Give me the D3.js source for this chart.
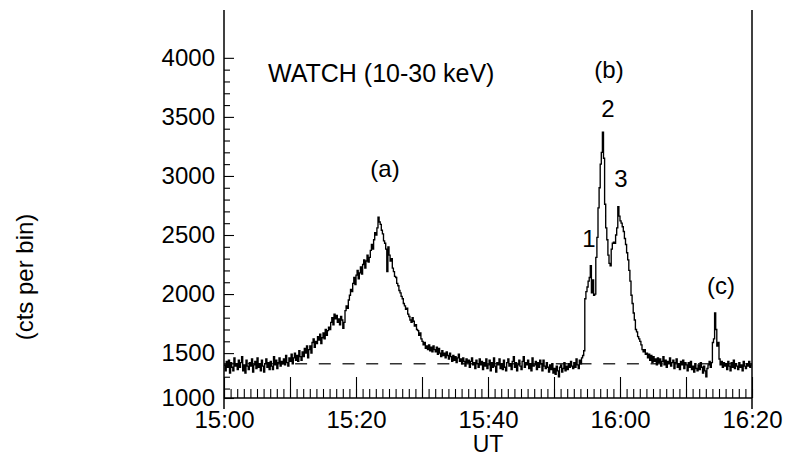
<!DOCTYPE html>
<html>
<head>
<meta charset="utf-8">
<script src="https://cdn.jsdelivr.net/npm/d3@7"></script>
<style>
  html, body { margin: 0; padding: 0; background: #fff; }
  svg { display: block; }
  text { font-family: "Liberation Sans", Arial, sans-serif; fill: #000; }
</style>
</head>
<body>
<svg id="chart" width="785" height="457"></svg>
<script>
// WATCH 10-30 keV count rate, 10 s bins starting 15:00 UT (one row per minute)
const binSeconds = 10;
const counts = [
  1400, 1350, 1430, 1380, 1440, 1330,   // 15:00
  1420, 1380, 1350, 1460, 1390, 1410,
  1360, 1440, 1380, 1420, 1470, 1350,
  1400, 1330, 1440, 1390, 1360, 1420,
  1390, 1450, 1340, 1400, 1430, 1370,
  1460, 1380, 1410, 1350, 1440, 1390,   // 15:05
  1340, 1410, 1450, 1380, 1420, 1360,
  1430, 1390, 1360, 1470, 1400, 1440,
  1370, 1420, 1460, 1390, 1430, 1410,
  1450, 1400, 1480, 1420, 1390, 1460,
  1430, 1490, 1410, 1460, 1500, 1440,   // 15:10
  1480, 1430, 1520, 1470, 1440, 1510,
  1470, 1540, 1500, 1560, 1460, 1530,
  1560, 1500, 1590, 1620, 1550, 1600,
  1580, 1640, 1610, 1660, 1580, 1630,
  1670, 1620, 1700, 1650, 1690, 1720,   // 15:15
  1700, 1760, 1800, 1740, 1830, 1790,
  1820, 1760, 1790, 1740, 1810, 1780,
  1710, 1760, 1860, 1900, 1880, 1950,
  1990, 2040, 2020, 2090, 2140, 2080,
  2160, 2200, 2130, 2180, 2230, 2170,   // 15:20
  2250, 2290, 2220, 2280, 2330, 2270,
  2310, 2370, 2420, 2380, 2460, 2520,
  2500, 2560, 2650, 2610, 2590, 2540,
  2510, 2450, 2430, 2380, 2190, 2400,
  2330, 2280, 2300, 2220, 2190, 2150,   // 15:25
  2140, 2090, 2070, 2030, 2010, 1980,
  1960, 1920, 1900, 1870, 1880, 1830,
  1810, 1780, 1760, 1800, 1770, 1730,
  1740, 1700, 1690, 1650, 1670, 1620,
  1600, 1570, 1590, 1540, 1560, 1530,   // 15:30
  1570, 1520, 1550, 1510, 1560, 1530,
  1510, 1550, 1490, 1540, 1500, 1470,
  1520, 1480, 1500, 1460, 1510, 1480,
  1450, 1500, 1470, 1430, 1480, 1440,
  1470, 1420, 1460, 1490, 1430, 1450,   // 15:35
  1410, 1460, 1430, 1390, 1450, 1420,
  1440, 1380, 1430, 1460, 1400, 1420,
  1370, 1440, 1410, 1380, 1450, 1400,
  1430, 1360, 1420, 1390, 1450, 1370,
  1400, 1440, 1350, 1420, 1380, 1460,   // 15:40
  1390, 1340, 1420, 1400, 1450, 1370,
  1410, 1360, 1440, 1380, 1350, 1420,
  1450, 1390, 1410, 1360, 1430, 1470,
  1380, 1420, 1350, 1400, 1440, 1390,
  1360, 1430, 1470, 1380, 1420, 1400,   // 15:45
  1440, 1370, 1410, 1350, 1460, 1390,
  1400, 1430, 1360, 1420, 1380, 1440,
  1410, 1350, 1440, 1390, 1370, 1420,
  1380, 1340, 1400, 1360, 1410, 1330,
  1370, 1320, 1390, 1350, 1300, 1380,   // 15:50
  1400, 1340, 1370, 1420, 1350, 1390,
  1360, 1410, 1380, 1430, 1390, 1370,
  1420, 1380, 1450, 1400, 1370, 1440,
  1410, 1460, 1480, 1520, 1960, 2020,
  2060, 2110, 2140, 2240, 2010, 2120,   // 15:55
  1990, 2000, 2310, 2480, 2730, 2900,
  3100, 3200, 3370, 3150, 2760, 2560,
  2460, 2330, 2260, 2240, 2380, 2430,
  2440, 2430, 2500, 2560, 2740, 2660,
  2620, 2600, 2570, 2530, 2470, 2420,   // 16:00
  2350, 2290, 2200, 2110, 1990, 1920,
  1840, 1780, 1700, 1680, 1640, 1620,
  1600, 1570, 1530, 1510, 1530, 1490,
  1500, 1460, 1490, 1440, 1480, 1420,
  1470, 1430, 1450, 1400, 1460, 1420,   // 16:05
  1450, 1390, 1430, 1470, 1400, 1440,
  1380, 1430, 1410, 1460, 1390, 1420,
  1440, 1370, 1420, 1450, 1380, 1410,
  1360, 1430, 1400, 1440, 1370, 1420,
  1400, 1350, 1420, 1380, 1430, 1360,   // 16:10
  1390, 1340, 1410, 1370, 1350, 1400,
  1360, 1420, 1380, 1330, 1390, 1350,
  1300, 1370, 1400, 1430, 1380, 1420,
  1590, 1620, 1840, 1700, 1560, 1590,
  1450, 1400, 1430, 1380, 1420, 1390,   // 16:15
  1410, 1360, 1430, 1390, 1350, 1420,
  1380, 1440, 1370, 1410, 1390, 1360,
  1420, 1380, 1400, 1350, 1430, 1390,
  1370, 1410, 1390, 1430, 1380, 1400
];
const backgroundLevel = 1410;

const yMajorTicks = [1000, 1500, 2000, 2500, 3000, 3500, 4000];
const yMinorTicks = [1200, 1300, 1400, 1600, 1700, 1800, 1900, 2100, 2200, 2300, 2400,
  2600, 2700, 2800, 2900, 3100, 3200, 3300, 3400, 3600, 3700, 3800, 3900];
const xLabelTimes = ["15:00", "15:20", "15:40", "16:00", "16:20"];

const annotations = [
  { text: "WATCH (10-30 keV)", x: 268, y: 82, anchor: "start", size: 25 },
  { text: "(a)", x: 385, y: 177, anchor: "middle", size: 24 },
  { text: "(b)", x: 609, y: 78, anchor: "middle", size: 24 },
  { text: "2", x: 608, y: 117, anchor: "middle", size: 24 },
  { text: "3", x: 621, y: 187, anchor: "middle", size: 24 },
  { text: "1", x: 589, y: 247, anchor: "middle", size: 24 },
  { text: "(c)", x: 721, y: 294, anchor: "middle", size: 24 }
];

const svg = d3.select("#chart");
const plotLeft = 224, plotRight = 752, plotTop = 10, plotBottom = 398;
const fontSize = 24;

const day = (hh, mm) => new Date(Date.UTC(2000, 0, 1, hh, mm));
const t0 = day(15, 0), t1 = day(16, 20);

const x = d3.scaleUtc().domain([t0, t1]).range([plotLeft, plotRight]);
const y = d3.scaleLinear().domain([1120, 4405]).range([plotBottom, plotTop]).clamp(true);

// step series
const pts = counts.map((v, i) => [new Date(t0.getTime() + i * binSeconds * 1000), v]);
pts.push([new Date(t0.getTime() + counts.length * binSeconds * 1000), counts[counts.length - 1]]);

// dashed background level
svg.append("line")
  .attr("x1", plotLeft).attr("x2", plotRight)
  .attr("y1", y(backgroundLevel)).attr("y2", y(backgroundLevel))
  .attr("stroke", "#333").attr("stroke-width", 1.3)
  .attr("stroke-dasharray", "12,11.7");

svg.append("path")
  .datum(pts)
  .attr("fill", "none")
  .attr("stroke", "#000")
  .attr("stroke-width", 1.35)
  .attr("d", d3.line().x(d => x(d[0])).y(d => y(d[1])).curve(d3.curveStepAfter));

// y axis ticks (inside)
const gyMinor = svg.append("g").attr("transform", `translate(${plotLeft},0)`)
  .call(d3.axisLeft(y).tickValues(yMinorTicks).tickSize(-6).tickFormat(""));
const gyMajor = svg.append("g").attr("transform", `translate(${plotLeft},0)`)
  .call(d3.axisLeft(y).tickValues(yMajorTicks).tickSize(-10).tickPadding(9).tickFormat(d3.format("d")));

// x axis ticks (inside)
const gxMinor = svg.append("g").attr("transform", `translate(0,${plotBottom})`)
  .call(d3.axisBottom(x).ticks(d3.utcMinute.every(1)).tickSize(-9).tickFormat(""));
const fmt = d3.utcFormat("%H:%M");
const gxMajor = svg.append("g").attr("transform", `translate(0,${plotBottom})`)
  .call(d3.axisBottom(x).ticks(d3.utcMinute.every(10)).tickSize(-21).tickPadding(13)
    .tickFormat(d => xLabelTimes.includes(fmt(d)) ? fmt(d) : ""));

[gyMinor, gyMajor, gxMinor, gxMajor].forEach(g => {
  g.select(".domain").remove();
  g.selectAll("line").attr("stroke", "#000").attr("stroke-width", 1.1);
  g.selectAll("text").attr("font-size", fontSize)
    .attr("font-family", '"Liberation Sans", Arial, sans-serif').attr("fill", "#000");
});

// frame: left, right and bottom
svg.append("line").attr("x1", plotLeft).attr("x2", plotRight).attr("y1", plotBottom).attr("y2", plotBottom)
  .attr("stroke", "#000").attr("stroke-width", 1.5);
[plotLeft, plotRight].forEach(px => {
  svg.append("line").attr("x1", px).attr("x2", px).attr("y1", plotTop).attr("y2", plotBottom + 11)
    .attr("stroke", "#000").attr("stroke-width", 1.5);
});

// axis titles
svg.append("text").attr("x", x(day(15, 40))).attr("y", 452)
  .attr("text-anchor", "middle").attr("font-size", 23).text("UT");
svg.append("text").attr("transform", "translate(33,277) rotate(-90)")
  .attr("text-anchor", "middle").attr("font-size", fontSize).text("(cts per bin)");

svg.selectAll("text.note").data(annotations).enter().append("text")
  .attr("class", "note")
  .attr("x", d => d.x).attr("y", d => d.y)
  .attr("text-anchor", d => d.anchor)
  .attr("font-size", d => d.size)
  .text(d => d.text);
</script>
</body>
</html>
